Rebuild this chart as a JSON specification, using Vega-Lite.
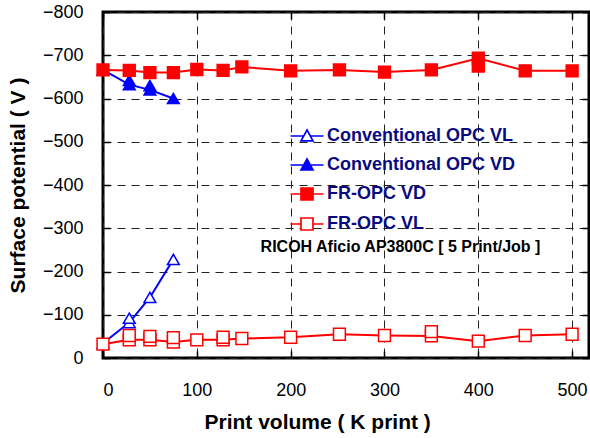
{
  "$schema": "https://vega.github.io/schema/vega-lite/v6.json",
  "width": 486,
  "height": 346,
  "autosize": "none",
  "padding": {"left": 103, "top": 12, "right": 1, "bottom": 80},
  "background": "white",
  "config": {
    "font": "Liberation Sans",
    "view": {"stroke": "black", "strokeWidth": 3}
  },
  "data": {
    "values": [
      {"series": "Conventional OPC VL", "x": 0, "y": -34, "role": "main"},
      {"series": "Conventional OPC VL", "x": 28, "y": -82, "role": "main"},
      {"series": "Conventional OPC VL", "x": 28, "y": -92, "role": "extra"},
      {"series": "Conventional OPC VL", "x": 50, "y": -140, "role": "main"},
      {"series": "Conventional OPC VL", "x": 75, "y": -228, "role": "main"},
      {"series": "Conventional OPC VD", "x": 0, "y": -666, "role": "main"},
      {"series": "Conventional OPC VD", "x": 28, "y": -632, "role": "main"},
      {"series": "Conventional OPC VD", "x": 28, "y": -642, "role": "extra"},
      {"series": "Conventional OPC VD", "x": 50, "y": -620, "role": "main"},
      {"series": "Conventional OPC VD", "x": 50, "y": -630, "role": "extra"},
      {"series": "Conventional OPC VD", "x": 75, "y": -600, "role": "main"},
      {"series": "FR-OPC VD", "x": 0, "y": -666, "role": "main"},
      {"series": "FR-OPC VD", "x": 28, "y": -665, "role": "main"},
      {"series": "FR-OPC VD", "x": 50, "y": -660, "role": "main"},
      {"series": "FR-OPC VD", "x": 75, "y": -660, "role": "main"},
      {"series": "FR-OPC VD", "x": 100, "y": -667, "role": "main"},
      {"series": "FR-OPC VD", "x": 128, "y": -665, "role": "main"},
      {"series": "FR-OPC VD", "x": 148, "y": -673, "role": "main"},
      {"series": "FR-OPC VD", "x": 200, "y": -664, "role": "main"},
      {"series": "FR-OPC VD", "x": 252, "y": -666, "role": "main"},
      {"series": "FR-OPC VD", "x": 300, "y": -661, "role": "main"},
      {"series": "FR-OPC VD", "x": 350, "y": -666, "role": "main"},
      {"series": "FR-OPC VD", "x": 400, "y": -693, "role": "main"},
      {"series": "FR-OPC VD", "x": 400, "y": -675, "role": "extra"},
      {"series": "FR-OPC VD", "x": 450, "y": -664, "role": "main"},
      {"series": "FR-OPC VD", "x": 500, "y": -664, "role": "main"},
      {"series": "FR-OPC VL", "x": 0, "y": -32, "role": "main"},
      {"series": "FR-OPC VL", "x": 28, "y": -42, "role": "main"},
      {"series": "FR-OPC VL", "x": 28, "y": -52, "role": "extra"},
      {"series": "FR-OPC VL", "x": 50, "y": -42, "role": "main"},
      {"series": "FR-OPC VL", "x": 50, "y": -50, "role": "extra"},
      {"series": "FR-OPC VL", "x": 75, "y": -37, "role": "main"},
      {"series": "FR-OPC VL", "x": 75, "y": -47, "role": "extra"},
      {"series": "FR-OPC VL", "x": 100, "y": -42, "role": "main"},
      {"series": "FR-OPC VL", "x": 128, "y": -42, "role": "main"},
      {"series": "FR-OPC VL", "x": 128, "y": -48, "role": "extra"},
      {"series": "FR-OPC VL", "x": 148, "y": -45, "role": "main"},
      {"series": "FR-OPC VL", "x": 200, "y": -48, "role": "main"},
      {"series": "FR-OPC VL", "x": 252, "y": -55, "role": "main"},
      {"series": "FR-OPC VL", "x": 300, "y": -52, "role": "main"},
      {"series": "FR-OPC VL", "x": 350, "y": -51, "role": "main"},
      {"series": "FR-OPC VL", "x": 350, "y": -61, "role": "extra"},
      {"series": "FR-OPC VL", "x": 400, "y": -39, "role": "main"},
      {"series": "FR-OPC VL", "x": 450, "y": -52, "role": "main"},
      {"series": "FR-OPC VL", "x": 500, "y": -55, "role": "main"}
    ]
  },
  "layer": [
    {
      "transform": [{"filter": "datum.role === 'main'"}],
      "mark": {"type": "line", "strokeWidth": 2},
      "encoding": {
        "x": {
          "field": "x", "type": "quantitative",
          "scale": {"domain": [0, 518], "nice": false, "zero": false},
          "axis": {
            "orient": "bottom",
            "values": [0, 100, 200, 300, 400, 500],
            "grid": true, "gridDash": [8, 6], "gridColor": "#222", "gridWidth": 1,
            "domain": false,
            "ticks": true, "tickSize": -7, "tickColor": "black", "tickWidth": 1.5,
            "labelFontSize": 18, "labelColor": "black", "labelPadding": 30,
            "title": "Print volume ( K print )",
            "titleFontSize": 21, "titleFontWeight": "bold", "titleColor": "black",
            "titlePadding": 12, "titleAnchor": "start", "titleX": 101
          }
        },
        "y": {
          "field": "y", "type": "quantitative",
          "scale": {"domain": [0, -800], "nice": false, "zero": false},
          "axis": {
            "orient": "left",
            "values": [0, -100, -200, -300, -400, -500, -600, -700, -800],
            "grid": true, "gridDash": [8, 6], "gridColor": "#222", "gridWidth": 1,
            "domain": false,
            "ticks": true, "tickSize": -7, "tickColor": "black", "tickWidth": 1.5,
            "labelFontSize": 18, "labelColor": "black", "labelPadding": 27,
            "title": "Surface potential ( V )",
            "titleFontSize": 21, "titleFontWeight": "bold", "titleColor": "black",
            "titlePadding": 14
          }
        },
        "color": {
          "field": "series", "type": "nominal",
          "scale": {
            "domain": ["Conventional OPC VL", "Conventional OPC VD", "FR-OPC VD", "FR-OPC VL"],
            "range": ["#0000ff", "#0000ff", "#ff0000", "#ff0000"]
          },
          "legend": null
        }
      }
    },
    {
      "mark": {"type": "point", "filled": false, "size": 140, "strokeWidth": 1.5, "opacity": 1},
      "encoding": {
        "x": {"field": "x", "type": "quantitative", "axis": null},
        "y": {"field": "y", "type": "quantitative", "axis": null},
        "color": {
          "field": "series", "type": "nominal",
          "scale": {
            "domain": ["Conventional OPC VL", "Conventional OPC VD", "FR-OPC VD", "FR-OPC VL"],
            "range": ["#0000ff", "#0000ff", "#ff0000", "#ff0000"]
          },
          "legend": null
        },
        "fill": {
          "field": "series", "type": "nominal",
          "scale": {
            "domain": ["Conventional OPC VL", "Conventional OPC VD", "FR-OPC VD", "FR-OPC VL"],
            "range": ["white", "#0000ff", "#ff0000", "white"]
          },
          "legend": null
        },
        "shape": {
          "field": "series", "type": "nominal",
          "scale": {
            "domain": ["Conventional OPC VL", "Conventional OPC VD", "FR-OPC VD", "FR-OPC VL"],
            "range": ["triangle-up", "triangle-up", "square", "square"]
          },
          "legend": null
        }
      }
    },
    {
      "transform": [{"filter": "datum.role === 'main'"}],
      "mark": {"type": "point", "opacity": 0, "size": 1},
      "encoding": {
        "x": {
          "field": "x", "type": "quantitative",
          "axis": {
            "orient": "top", "values": [0, 100, 200, 300, 400, 500],
            "labels": false, "grid": false, "domain": false, "title": null,
            "ticks": true, "tickSize": -7, "tickColor": "black", "tickWidth": 1.5
          }
        },
        "y": {
          "field": "y", "type": "quantitative",
          "axis": {
            "orient": "right", "values": [0, -100, -200, -300, -400, -500, -600, -700, -800],
            "labels": false, "grid": false, "domain": false, "title": null,
            "ticks": true, "tickSize": -7, "tickColor": "black", "tickWidth": 1.5
          }
        }
      }
    },
    {
      "transform": [{"filter": "datum.role === 'main' && datum.x === 0"}],
      "mark": {"type": "point", "filled": false, "opacity": 0, "strokeWidth": 1.5},
      "encoding": {
        "x": {"field": "x", "type": "quantitative", "axis": null},
        "y": {"field": "y", "type": "quantitative", "axis": null},
        "color": {
          "field": "series", "type": "nominal",
          "scale": {
            "domain": ["Conventional OPC VL", "Conventional OPC VD", "FR-OPC VD", "FR-OPC VL"],
            "range": ["#0000ff", "#0000ff", "#ff0000", "#ff0000"]
          },
          "legend": {
            "orient": "none", "legendX": 195, "legendY": 115,
            "title": null,
            "labelFontSize": 18, "labelFontWeight": "bold", "labelColor": "#0a0a80", "labelLimit": 400,
            "symbolSize": 144, "labelOffset": 11, "rowPadding": 10,
            "symbolStrokeWidth": 1.7, "symbolOpacity": 1
          }
        },
        "fill": {
          "field": "series", "type": "nominal",
          "scale": {
            "domain": ["Conventional OPC VL", "Conventional OPC VD", "FR-OPC VD", "FR-OPC VL"],
            "range": ["white", "#0000ff", "#ff0000", "white"]
          },
          "legend": {
            "orient": "none", "legendX": 195, "legendY": 115,
            "title": null,
            "labelFontSize": 18, "labelFontWeight": "bold", "labelColor": "#0a0a80", "labelLimit": 400,
            "symbolSize": 144, "labelOffset": 11, "rowPadding": 10,
            "symbolStrokeWidth": 1.7, "symbolOpacity": 1
          }
        },
        "shape": {
          "field": "series", "type": "nominal",
          "scale": {
            "domain": ["Conventional OPC VL", "Conventional OPC VD", "FR-OPC VD", "FR-OPC VL"],
            "range": [
              "M-2.75,0H-0.55M0.55,0H2.75M0,-1L1,0.8L-1,0.8Z",
              "M-2.75,0H-0.55M0.55,0H2.75M0,-1L1,0.8L-1,0.8Z",
              "M-2.75,0H-1M1,0H2.75M-1,-1H1V1H-1Z",
              "M-2.75,0H-1M1,0H2.75M-1,-1H1V1H-1Z"
            ]
          },
          "legend": {
            "orient": "none", "legendX": 195, "legendY": 115,
            "title": null,
            "labelFontSize": 18, "labelFontWeight": "bold", "labelColor": "#0a0a80", "labelLimit": 400,
            "symbolSize": 144, "labelOffset": 11, "rowPadding": 10,
            "symbolStrokeWidth": 1.7, "symbolOpacity": 1
          }
        }
      }
    },
    {
      "data": {"values": [{"x": 168, "y": -257, "label": "RICOH Aficio AP3800C [ 5 Print/Job ]"}]},
      "mark": {"type": "text", "align": "left", "baseline": "middle", "fontSize": 16, "fontWeight": "bold", "color": "black"},
      "encoding": {
        "x": {"field": "x", "type": "quantitative", "axis": null},
        "y": {"field": "y", "type": "quantitative", "axis": null},
        "text": {"field": "label"}
      }
    }
  ],
  "resolve": {
    "axis": {"x": "independent", "y": "independent"},
    "scale": {"shape": "independent", "color": "independent", "fill": "independent"},
    "legend": {"shape": "independent", "color": "independent", "fill": "independent"}
  }
}
